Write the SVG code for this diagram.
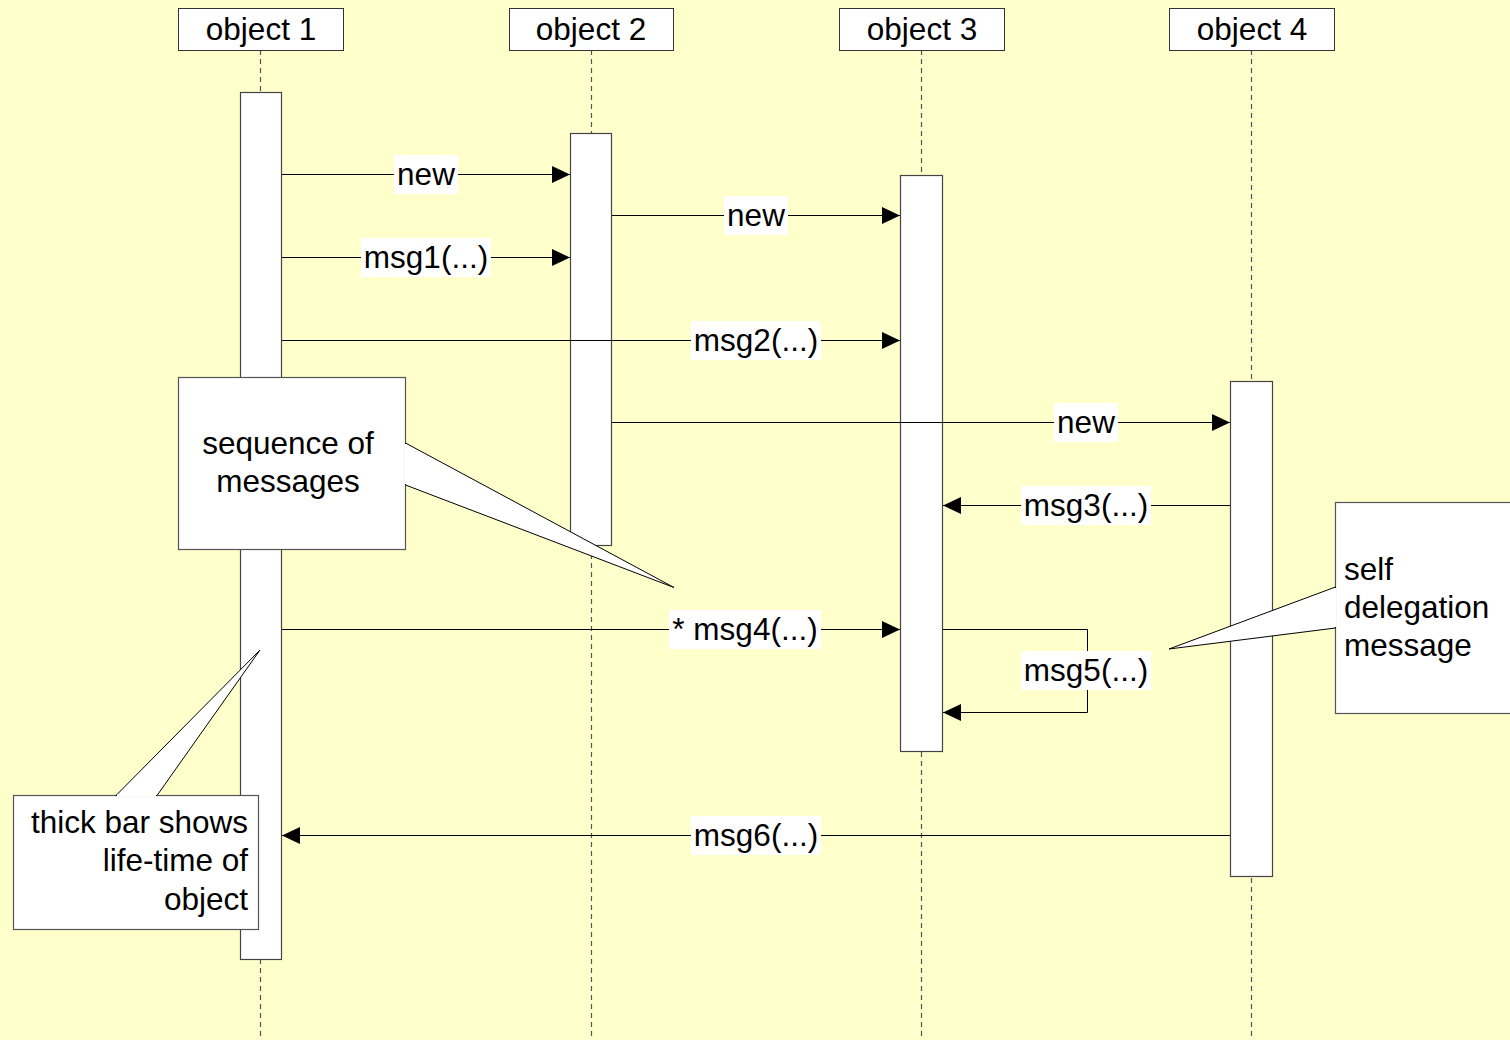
<svg xmlns="http://www.w3.org/2000/svg" width="1510" height="1040" viewBox="0 0 1510 1040">
<style>
text{font-family:"Liberation Sans",Arial,sans-serif;font-size:31.5px;fill:#000}
.obj{fill:#fff;stroke:#333;stroke-width:1}
.life{stroke:#555;stroke-width:1.2;stroke-dasharray:5,4;fill:none}
.bar{fill:#fff;stroke:#444;stroke-width:1.2}
.msg{stroke:#000;stroke-width:1;fill:none}
.lbl{fill:#fff}
.note{fill:#fff;stroke:#555;stroke-width:1.2}
.ptr{fill:#fff;stroke:#000;stroke-width:1}
</style>
<defs>
<marker id="ah" markerUnits="userSpaceOnUse" markerWidth="18" markerHeight="17" refX="18" refY="8.5" orient="auto">
<path d="M0,0 L18,8.5 L0,17 z" fill="#000"/>
</marker>
</defs>
<rect x="0" y="0" width="1510" height="1040" fill="#ffffcc"/>
<g id="lifelines">
<line class="life" x1="260.5" y1="50" x2="260.5" y2="1040"/>
<line class="life" x1="591.5" y1="50" x2="591.5" y2="1040"/>
<line class="life" x1="921.5" y1="50" x2="921.5" y2="1040"/>
<line class="life" x1="1251.5" y1="50" x2="1251.5" y2="1040"/>
</g>
<g id="object1"><rect class="obj" x="178.5" y="8.5" width="165" height="42"/><text x="261" y="40" text-anchor="middle">object 1</text></g>
<g id="object2"><rect class="obj" x="509.5" y="8.5" width="164" height="42"/><text x="591" y="40" text-anchor="middle">object 2</text></g>
<g id="object3"><rect class="obj" x="839.5" y="8.5" width="165" height="42"/><text x="922" y="40" text-anchor="middle">object 3</text></g>
<g id="object4"><rect class="obj" x="1169.5" y="8.5" width="165" height="42"/><text x="1252" y="40" text-anchor="middle">object 4</text></g>
<g id="bars">
<rect id="bar1" class="bar" x="240.5" y="92.5" width="41" height="867"/>
<rect id="bar2" class="bar" x="570.5" y="133.5" width="41" height="412"/>
<rect id="bar3" class="bar" x="900.5" y="175.5" width="42" height="576"/>
<rect id="bar4" class="bar" x="1230.5" y="381.5" width="42" height="495"/>
</g>
<g id="connectors">
<line class="msg" x1="282" y1="174.5" x2="570" y2="174.5" marker-end="url(#ah)"/>
<line class="msg" x1="612" y1="215.5" x2="900" y2="215.5" marker-end="url(#ah)"/>
<line class="msg" x1="282" y1="257.5" x2="570" y2="257.5" marker-end="url(#ah)"/>
<line class="msg" x1="282" y1="340.5" x2="900" y2="340.5" marker-end="url(#ah)"/>
<line class="msg" x1="612" y1="422.5" x2="1230" y2="422.5" marker-end="url(#ah)"/>
<line class="msg" x1="1230" y1="505.5" x2="943" y2="505.5" marker-end="url(#ah)"/>
<line class="msg" x1="282" y1="629.5" x2="900" y2="629.5" marker-end="url(#ah)"/>
<polyline class="msg" points="943,629.5 1087.5,629.5 1087.5,712.5 943,712.5" marker-end="url(#ah)"/>
<line class="msg" x1="1230" y1="835.5" x2="282" y2="835.5" marker-end="url(#ah)"/>
</g>
<g id="labels">
<rect class="lbl" x="394" y="155" width="64" height="39"/><text x="426" y="185" text-anchor="middle">new</text>
<rect class="lbl" x="724" y="196" width="64" height="39"/><text x="756" y="226" text-anchor="middle">new</text>
<rect class="lbl" x="361" y="238" width="130" height="39"/><text x="426" y="268" text-anchor="middle">msg1(...)</text>
<rect class="lbl" x="691" y="321" width="130" height="39"/><text x="756" y="351" text-anchor="middle">msg2(...)</text>
<rect class="lbl" x="1054" y="403" width="64" height="39"/><text x="1086" y="433" text-anchor="middle">new</text>
<rect class="lbl" x="1021" y="486" width="130" height="39"/><text x="1086" y="516" text-anchor="middle">msg3(...)</text>
<rect class="lbl" x="669" y="610" width="152" height="39"/><text x="745" y="640" text-anchor="middle">* msg4(...)</text>
<rect class="lbl" x="1021" y="651" width="130" height="39"/><text x="1086" y="681" text-anchor="middle">msg5(...)</text>
<rect class="lbl" x="691" y="816" width="130" height="39"/><text x="756" y="846" text-anchor="middle">msg6(...)</text>
</g>
<g id="note-sequence">
<rect class="note" x="178.5" y="377.5" width="227" height="172"/>
<polygon class="ptr" points="405.5,443 674,587.5 405.5,485"/>
<line x1="405.5" y1="444" x2="405.5" y2="484" stroke="#fff" stroke-width="2"/>
<text x="288" y="454" text-anchor="middle">sequence of</text>
<text x="288" y="492" text-anchor="middle">messages</text>
</g>
<g id="note-self">
<rect class="note" x="1335.5" y="502.5" width="190" height="211"/>
<polygon class="ptr" points="1335.5,587 1169,649 1335.5,628"/>
<line x1="1335.5" y1="588" x2="1335.5" y2="627" stroke="#fff" stroke-width="2"/>
<text x="1344" y="580">self</text>
<text x="1344" y="618">delegation</text>
<text x="1344" y="656">message</text>
</g>
<g id="note-lifetime">
<rect class="note" x="13.5" y="795.5" width="245" height="134"/>
<polygon class="ptr" points="116,795.5 260,650 157,795.5"/>
<line x1="117" y1="795.5" x2="156" y2="795.5" stroke="#fff" stroke-width="2"/>
<text x="248" y="833" text-anchor="end">thick bar shows</text>
<text x="248" y="871" text-anchor="end">life-time of</text>
<text x="248" y="910" text-anchor="end">object</text>
</g>
</svg>
